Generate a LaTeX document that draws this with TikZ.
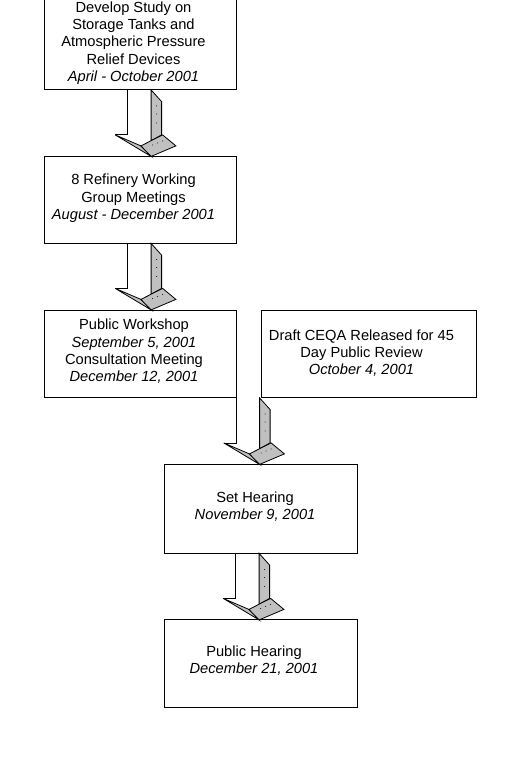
\documentclass[tikz,border=0pt]{standalone}
\usepackage{fontspec}
\setmainfont{Liberation Sans}
\usetikzlibrary{calc}
\definecolor{bevelgray}{RGB}{192,192,192}
\tikzset{
         box/.style={draw,line width=.8pt,inner sep=0pt},
         lbl/.style={align=center,inner sep=0pt,font=\fontsize{14.67}{17.3}\selectfont},
         bevel/.style={fill=bevelgray,draw,line width=.8pt,line join=miter},
         blockarrow/.pic=
          {
           \draw[line width=.8pt](0,0)--(0,45)--(-12.4,45);
           \draw[bevel](23.5,0)--(34,11.7)--(34,45)--(23.5,50.8)--cycle;
           \draw[bevel](-12.4,45)--(13.3,56)--(23.5,66.5)--cycle;
           \draw[bevel](13.3,56)--(35,45)--(48.3,56)--(23.5,66.5)--cycle;
           \foreach \d in {16,24,33}{\fill(29,\d)circle(.5);}
           \foreach \d in {25,30,35}{\fill(\d,55-.4*\d+10)circle(.5);}
          }
        }
\begin{document}
\begin{tikzpicture}[x=1pt,y=-1pt]
\useasboundingbox(0,0)rectangle(520,775);
%boxes
\node[box,minimum width=192.5pt,minimum height=90.5pt](study)at(140.25,44.25){};
\node[box,minimum width=192.5pt,minimum height=87pt](meetings)at(140.25,199.5){};
\node[box,minimum width=192.5pt,minimum height=87.5pt](workshop)at(140.25,353.75){};
\node[box,minimum width=215pt,minimum height=87.5pt](ceqa)at(368.5,353.75){};
\node[box,minimum width=193pt,minimum height=89pt](sethearing)at(260.5,508.5){};
\node[box,minimum width=193pt,minimum height=88pt](hearing)at(260.5,663){};
%arrows
\foreach \n/\s in {study/84,meetings/84,workshop/192.5,sethearing/72}{
\pic at([xshift=\s]\n.south west){blockarrow};
}
%labels
\node[lbl](studytxt)at(133.5,43.2){Develop Study on\\Storage Tanks and\\Atmospheric Pressure\\Relief Devices\\\textit{April - October 2001}};
\node[lbl](meetingstxt)at(133.5,198.3){8 Refinery Working\\Group Meetings\\\textit{August - December 2001}};
\node[lbl](workshoptxt)at(134,351.3){Public Workshop\\\textit{September 5, 2001}\\Consultation Meeting\\\textit{December 12, 2001}};
\node[lbl](ceqatxt)at(361.5,353){Draft CEQA Released for 45\\Day Public Review\\\textit{October 4, 2001}};
\node[lbl](sethearingtxt)at(255,506.3){Set Hearing\\\textit{November 9, 2001}};
\node[lbl](hearingtxt)at(254,660.5){Public Hearing\\\textit{December 21, 2001}};
\end{tikzpicture}
\end{document}
